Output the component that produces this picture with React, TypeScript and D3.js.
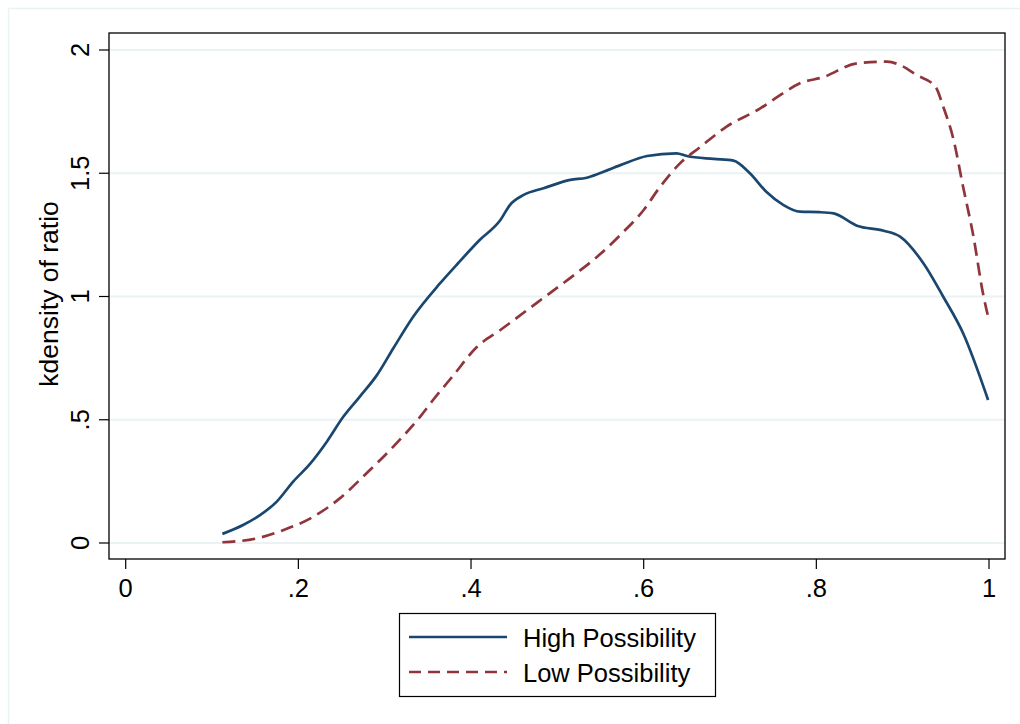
import React, { useEffect, useRef } from 'react';
import * as d3 from 'd3';

// kdensity of ratio
const ratioHigh = [0.112, 0.136, 0.156, 0.175, 0.194, 0.214, 0.233, 0.252, 0.271, 0.291, 0.310, 0.333, 0.364, 0.385, 0.410, 0.434, 0.445, 0.461, 0.484, 0.515, 0.534, 0.549, 0.573, 0.604, 0.638, 0.650, 0.681, 0.704, 0.723, 0.742, 0.762, 0.781, 0.804, 0.820, 0.847, 0.878, 0.897, 0.924, 0.947, 0.970, 0.999];
const densHigh = [0.037, 0.073, 0.114, 0.168, 0.249, 0.323, 0.411, 0.512, 0.593, 0.681, 0.790, 0.918, 1.053, 1.135, 1.229, 1.310, 1.371, 1.412, 1.439, 1.473, 1.482, 1.500, 1.533, 1.570, 1.581, 1.570, 1.558, 1.551, 1.500, 1.425, 1.371, 1.344, 1.342, 1.337, 1.287, 1.267, 1.243, 1.135, 0.999, 0.851, 0.580];

const ratioLow = [0.112, 0.152, 0.183, 0.214, 0.248, 0.279, 0.310, 0.341, 0.356, 0.380, 0.407, 0.434, 0.465, 0.491, 0.522, 0.549, 0.573, 0.600, 0.619, 0.642, 0.666, 0.696, 0.735, 0.758, 0.781, 0.808, 0.847, 0.882, 0.897, 0.916, 0.938, 0.947, 0.959, 0.970, 0.982, 0.993, 0.999];
const densLow = [0.003, 0.019, 0.053, 0.100, 0.181, 0.283, 0.391, 0.512, 0.580, 0.682, 0.796, 0.864, 0.945, 1.013, 1.094, 1.170, 1.250, 1.351, 1.445, 1.540, 1.608, 1.689, 1.763, 1.817, 1.865, 1.890, 1.946, 1.953, 1.939, 1.899, 1.851, 1.770, 1.635, 1.445, 1.243, 1.013, 0.918];

const xTicks = [0, 0.2, 0.4, 0.6, 0.8, 1];
const xTickLabels = ['0', '.2', '.4', '.6', '.8', '1'];
const yTicks = [0, 0.5, 1, 1.5, 2];
const yTickLabels = ['0', '.5', '1', '1.5', '2'];
const seriesNames = ['High Possibility', 'Low Possibility'];

const BLUE = '#1a476f';
const RED = '#90353b';
const GRID = '#eaf2f3';
const FONT = '"Liberation Sans", Arial, sans-serif';
const FS = '25.5px';

export default function App() {
  const svgRef = useRef<SVGSVGElement>(null);

  useEffect(() => {
    const width = 1020;
    const height = 724;
    const frame = { left: 109, right: 1005, top: 33, bottom: 559 };

    const svg = d3.select(svgRef.current)
      .attr('width', width)
      .attr('height', height);
    svg.selectAll('*').remove();

    const x = d3.scaleLinear().domain([0, 1]).range([125.7, 989]);
    const y = d3.scaleLinear().domain([0, 2]).range([543, 50]);

    // outer graph region border
    svg.append('rect')
      .attr('x', 8.5).attr('y', 8.5)
      .attr('width', 1040).attr('height', 740)
      .attr('fill', 'white')
      .attr('stroke', GRID)
      .attr('stroke-width', 1.5);

    // gridlines
    svg.append('g').selectAll('line')
      .data(yTicks)
      .enter()
      .append('line')
      .attr('x1', frame.left)
      .attr('x2', frame.right)
      .attr('y1', d => y(d))
      .attr('y2', d => y(d))
      .attr('stroke', GRID)
      .attr('stroke-width', 2);

    // plot frame
    svg.append('rect')
      .attr('x', frame.left).attr('y', frame.top)
      .attr('width', frame.right - frame.left)
      .attr('height', frame.bottom - frame.top)
      .attr('fill', 'none')
      .attr('stroke', '#000')
      .attr('stroke-width', 1.3);

    // y axis ticks + rotated labels
    const yAxis = svg.append('g');
    yTicks.forEach((t, i) => {
      yAxis.append('line')
        .attr('x1', frame.left - 10).attr('x2', frame.left)
        .attr('y1', y(t)).attr('y2', y(t))
        .attr('stroke', '#000').attr('stroke-width', 1.2);
      yAxis.append('text')
        .attr('transform', `translate(89,${y(t)}) rotate(-90)`)
        .attr('text-anchor', 'middle')
        .attr('font-family', FONT)
        .attr('font-size', FS)
        .text(yTickLabels[i]);
    });

    // x axis ticks + labels
    const xAxis = svg.append('g');
    xTicks.forEach((t, i) => {
      xAxis.append('line')
        .attr('x1', x(t)).attr('x2', x(t))
        .attr('y1', frame.bottom).attr('y2', frame.bottom + 10)
        .attr('stroke', '#000').attr('stroke-width', 1.2);
      xAxis.append('text')
        .attr('x', x(t))
        .attr('y', 597)
        .attr('text-anchor', 'middle')
        .attr('font-family', FONT)
        .attr('font-size', FS)
        .text(xTickLabels[i]);
    });

    // y axis title
    svg.append('text')
      .attr('transform', `translate(58,${(frame.top + frame.bottom) / 2 - 2}) rotate(-90)`)
      .attr('text-anchor', 'middle')
      .attr('font-family', FONT)
      .attr('font-size', '26.5px')
      .text('kdensity of ratio');

    const line = d3.line<[number, number]>()
      .x(d => x(d[0]))
      .y(d => y(d[1]))
      .curve(d3.curveMonotoneX);

    const high = ratioHigh.map((r, i) => [r, densHigh[i]] as [number, number]);
    const low = ratioLow.map((r, i) => [r, densLow[i]] as [number, number]);

    svg.append('path')
      .datum(high)
      .attr('d', line)
      .attr('fill', 'none')
      .attr('stroke', BLUE)
      .attr('stroke-width', 2.7);

    svg.append('path')
      .datum(low)
      .attr('d', line)
      .attr('fill', 'none')
      .attr('stroke', RED)
      .attr('stroke-width', 2.7)
      .attr('stroke-dasharray', '13,7');

    // legend
    const lg = svg.append('g');
    lg.append('rect')
      .attr('x', 399.5).attr('y', 613.5)
      .attr('width', 316).attr('height', 83)
      .attr('fill', 'white')
      .attr('stroke', '#000')
      .attr('stroke-width', 1.2);
    const rows = [
      { name: seriesNames[0], color: BLUE, dash: null, y: 637 },
      { name: seriesNames[1], color: RED, dash: '12,7', y: 672 },
    ];
    rows.forEach(r => {
      lg.append('line')
        .attr('x1', 409).attr('x2', 507)
        .attr('y1', r.y).attr('y2', r.y)
        .attr('stroke', r.color)
        .attr('stroke-width', 2.7)
        .attr('stroke-dasharray', r.dash);
      lg.append('text')
        .attr('x', 523)
        .attr('y', r.y + 9.5)
        .attr('font-family', FONT)
        .attr('font-size', FS)
        .text(r.name);
    });
  }, []);

  return (
    <svg ref={svgRef} style={{ position: 'absolute', left: 0, top: 0, background: 'white' }}></svg>
  );
}
